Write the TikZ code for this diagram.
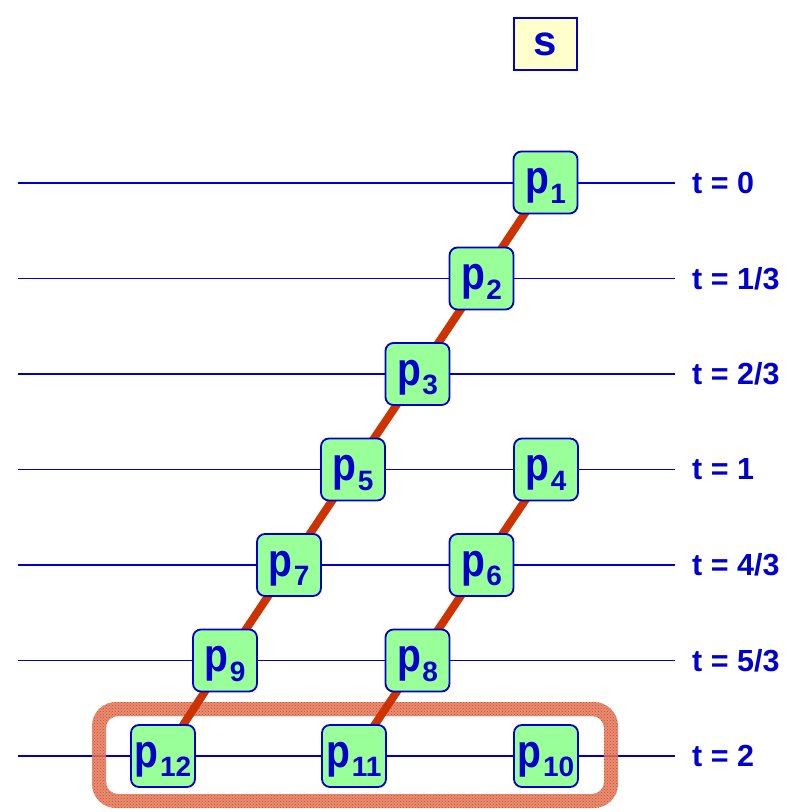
\documentclass[tikz,border=0pt]{standalone}
\usepackage{fontspec}
\usetikzlibrary{patterns}
\setmainfont{Liberation Sans}
\definecolor{lineblue}{RGB}{0,0,204}
\definecolor{nodegreen}{RGB}{153,255,153}
\definecolor{sfill}{RGB}{255,255,204}
\definecolor{edgered}{RGB}{204,51,0}
\definecolor{framered}{RGB}{215,70,30}
\tikzset{
  tline/.style={draw=lineblue, line width=1.8pt},
  pbox/.style={draw=lineblue, fill=nodegreen, line width=1.8pt, rounded corners=8pt,
    minimum width=64pt, minimum height=62pt, inner sep=0pt, text=lineblue,
    text height=26pt, text depth=4pt},
  sbox/.style={draw=lineblue, fill=sfill, line width=1.8pt,
    minimum width=63pt, minimum height=52pt, inner sep=0pt, text=lineblue,
    font=\bfseries\fontsize{42}{42}\selectfont},
  tlabel/.style={anchor=west, inner sep=0pt, text=lineblue,
    font=\bfseries\fontsize{30.5}{30.5}\selectfont},
  redge/.style={draw=edgered, line width=8pt},
  frametint/.style={fill=framered!72, fill opacity=0.85, even odd rule},
  framedots/.style={pattern=crosshatch dots, pattern color=framered, even odd rule}
}
\newcommand{\pn}[1]{\bfseries\scalebox{1}[1.2]{\fontsize{39}{39}\selectfont p}\kern1.5pt\raisebox{-9.5pt}{\fontsize{28}{28}\selectfont #1}}
\begin{document}
\begin{tikzpicture}[x=1pt,y=-1pt]
\useasboundingbox (0,0) rectangle (796,812);
% horizontal time lines
\foreach \n/\yy in {0/183,1/278.5,2/374,3/469.5,4/565,5/660.5,6/756}{
  \coordinate (L\n) at (18,\yy);
  \coordinate (R\n) at (675,\yy);
  \draw[tline] (L\n) -- (R\n);
}
% labels
\node[tlabel] (t0) at (692,183) {t = 0};
\node[tlabel] (t1) at (692,278.5) {t = 1/3};
\node[tlabel] (t2) at (692,374) {t = 2/3};
\node[tlabel] (t3) at (692,469.5) {t = 1};
\node[tlabel] (t4) at (692,565) {t = 4/3};
\node[tlabel] (t5) at (692,660.5) {t = 5/3};
\node[tlabel] (t6) at (692,756) {t = 2};
% speckled frame
\fill[frametint, rounded corners=24pt] (92,702) rectangle (618,808)
  {[rounded corners=12pt] (106,716) rectangle (604,794)};
\fill[framedots, rounded corners=24pt] (92,702) rectangle (618,808)
  {[rounded corners=12pt] (106,716) rectangle (604,794)};
% node coordinates
\coordinate (c1) at (545.5,182.5);
\coordinate (c2) at (481.5,278.5);
\coordinate (c3) at (417.5,374);
\coordinate (c4) at (546,469.5);
\coordinate (c5) at (353,469.5);
\coordinate (c6) at (481.5,565);
\coordinate (c7) at (289,565);
\coordinate (c8) at (417.5,660.5);
\coordinate (c9) at (225,660.5);
\coordinate (c10) at (546,756);
\coordinate (c11) at (354,756);
\coordinate (c12) at (163,756);
% red edges
\draw[redge] (c1) -- (c2) -- (c3) -- (c5) -- (c7) -- (c9) -- (c12);
\draw[redge] (c4) -- (c6) -- (c8) -- (c11);
% nodes
\node[sbox] (s) at (545.5,44) {s};
\node[pbox] (p1) at (c1) {\pn{1}};
\node[pbox] (p2) at (c2) {\pn{2}};
\node[pbox] (p3) at (c3) {\pn{3}};
\node[pbox] (p4) at (c4) {\pn{4}};
\node[pbox] (p5) at (c5) {\pn{5}};
\node[pbox] (p6) at (c6) {\pn{6}};
\node[pbox] (p7) at (c7) {\pn{7}};
\node[pbox] (p8) at (c8) {\pn{8}};
\node[pbox] (p9) at (c9) {\pn{9}};
\node[pbox] (p10) at (c10) {\pn{10}};
\node[pbox] (p11) at (c11) {\pn{11}};
\node[pbox] (p12) at (c12) {\pn{12}};
\end{tikzpicture}
\end{document}
